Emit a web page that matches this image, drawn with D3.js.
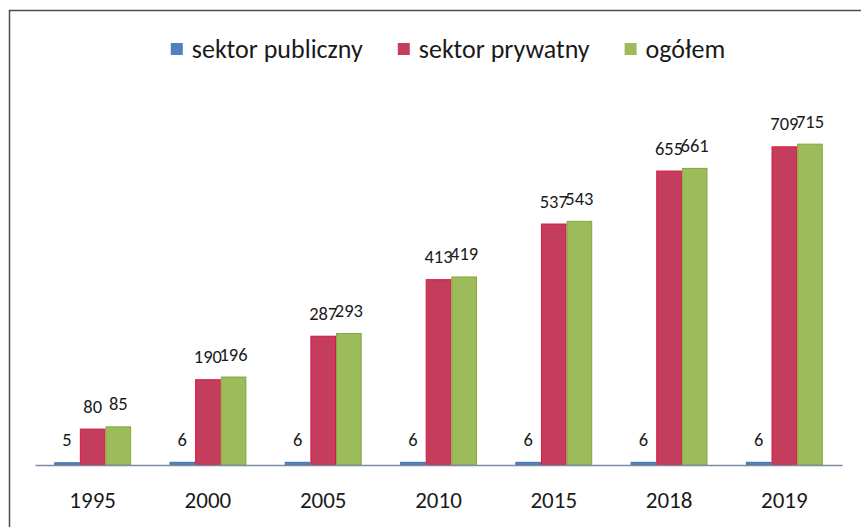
<!DOCTYPE html>
<html>

<head>
    <meta charset="utf-8">
    <style>
        body {
            margin: 0;
            background: #fff;
        }

        svg {
            display: block;
            font-family: Carlito, Calibri, Lato, sans-serif;
        }

        .axis-label {
            font-size: 23px;
            fill: #1a1a1a;
        }

        .value {
            font-size: 18.5px;
            fill: #1a1a1a;
        }

        .legend text {
            font-size: 26px;
            fill: #1a1a1a;
        }
    </style>
</head>

<body>
    <svg width="861" height="527"></svg>

<script src="https://d3js.org/d3.v7.min.js"></script>
<script>
    // data
    let years = ["1995", "2000", "2005", "2010", "2015", "2018", "2019"];
    let publiczny = [5, 6, 6, 6, 6, 6, 6];
    let prywatny = [80, 190, 287, 413, 537, 655, 709];
    let ogolem = [85, 196, 293, 419, 543, 661, 715];

    let seriesNames = ["sektor publiczny", "sektor prywatny", "ogółem"];
    let seriesColors = ["#4f81bd", "#c43d5c", "#9cbb5a"]; // fill
    let seriesEdges = ["#3f6fae", "#d8163f", "#84a63e"];  // thin edge of the bars

    let rows = years.map((yr, i) => ({
        year: yr,
        values: [publiczny[i], prywatny[i], ogolem[i]]
    }));

    let svg = d3.select("svg");

    let plot = { left: 35, right: 842, baseline: 465, top: 106 };

    // frame of the chart (right and bottom sides fall outside the picture)
    svg.append("rect")
        .attr("x", 9.5)
        .attr("y", 10.5)
        .attr("width", 1000)
        .attr("height", 1000)
        .attr("fill", "none")
        .attr("stroke", "#4d4d4d")
        .attr("stroke-width", 1.5);

    let x = d3.scaleBand()
        .domain(years)
        .range([plot.left, plot.right])
        .paddingInner(0.333)
        .paddingOuter(0.1667);

    let x1 = d3.scaleBand()
        .domain(d3.range(seriesNames.length))
        .range([0, x.bandwidth()])
        .padding(0);

    let y = d3.scaleLinear()
        .domain([0, 800])
        .range([plot.baseline, plot.top]);

    // bars
    let groups = svg.append("g")
        .attr("class", "bars")
        .selectAll("g")
        .data(rows)
        .join("g")
        .attr("transform", d => `translate(${x(d.year)},0)`);

    groups.selectAll("rect")
        .data(d => d.values.map((v, k) => ({ k: k, v: v })))
        .join("rect")
        .attr("x", d => x1(d.k) + 0.5)
        .attr("y", d => y(d.v))
        .attr("width", x1.bandwidth() - 1)
        .attr("height", d => y(0) - y(d.v))
        .attr("fill", d => seriesColors[d.k])
        .attr("stroke", d => seriesEdges[d.k])
        .attr("stroke-width", 1);

    // baseline axis, no ticks
    let xAxis = svg.append("g")
        .attr("transform", `translate(0,${plot.baseline})`)
        .call(d3.axisBottom(x).tickSize(0).tickFormat(""));
    xAxis.select(".domain")
        .attr("stroke", "#7d8ca3")
        .attr("stroke-width", 1.5);

    svg.append("g")
        .selectAll("text")
        .data(years)
        .join("text")
        .attr("class", "axis-label")
        .attr("x", d => x(d) + x.bandwidth() / 2)
        .attr("y", 508)
        .attr("text-anchor", "middle")
        .text(d => d);

    // value labels above every bar
    groups.selectAll("text")
        .data(d => d.values.map((v, k) => ({ k: k, v: v })))
        .join("text")
        .attr("class", "value")
        .attr("x", d => x1(d.k) + x1.bandwidth() / 2)
        .attr("y", d => y(d.v) - 16.5)
        .attr("text-anchor", "middle")
        .text(d => d.v);

    // legend, centred above the plot
    let legend = svg.append("g").attr("class", "legend");
    let items = legend.selectAll("g")
        .data(seriesNames)
        .join("g");

    items.append("rect")
        .attr("width", 12)
        .attr("height", 12)
        .attr("y", 43)
        .attr("fill", (d, i) => seriesColors[i]);

    items.append("text")
        .attr("x", 21)
        .attr("y", 58)
        .text(d => d);

    let cursor = 0;
    items.each(function () {
        let g = d3.select(this);
        let w = 21 + g.select("text").node().getComputedTextLength();
        g.attr("data-x", cursor);
        cursor += w + 35;
    });
    let total = cursor - 35;
    let start = 448 - total / 2;
    items.attr("transform", function () {
        return `translate(${start + +d3.select(this).attr("data-x")},0)`;
    });
</script>
</body>

</html>
